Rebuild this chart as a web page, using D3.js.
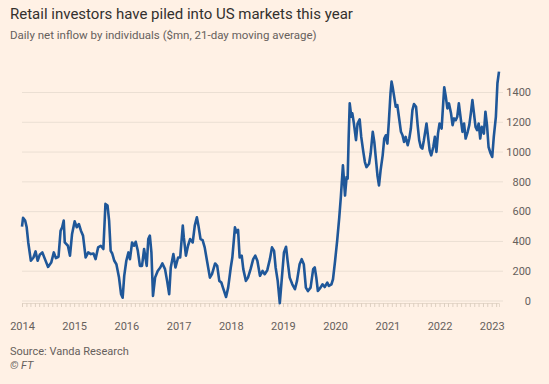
<!DOCTYPE html>
<html>
<head>
<meta charset="utf-8">
<script src="https://cdn.jsdelivr.net/npm/d3@7"></script>
<style>
  body { margin: 0; background: #fff1e5; }
  svg { display: block; font-family: Roboto, "Open Sans", sans-serif; }
</style>
</head>
<body>
<svg id="chart" width="549" height="384"></svg>
<script>
// decimal years
const years = [
  2014.00, 2014.02, 2014.06, 2014.09, 2014.12, 2014.17, 2014.22, 2014.26, 2014.30, 2014.34,
  2014.39, 2014.44, 2014.50, 2014.56, 2014.61, 2014.65, 2014.70, 2014.74, 2014.77, 2014.80,
  2014.82, 2014.88, 2014.92, 2014.96, 2015.01, 2015.05, 2015.09, 2015.13, 2015.17, 2015.22,
  2015.27, 2015.32, 2015.37, 2015.41, 2015.46, 2015.51, 2015.56, 2015.60, 2015.64, 2015.67,
  2015.70, 2015.73, 2015.77, 2015.81, 2015.86, 2015.90, 2015.93, 2015.96, 2016.00, 2016.04,
  2016.07, 2016.11, 2016.15, 2016.18, 2016.22, 2016.26, 2016.30, 2016.34, 2016.39, 2016.42,
  2016.45, 2016.48, 2016.51, 2016.55, 2016.60, 2016.65, 2016.69, 2016.74, 2016.78, 2016.82,
  2016.85, 2016.90, 2016.94, 2016.99, 2017.03, 2017.08, 2017.10, 2017.14, 2017.18, 2017.22,
  2017.27, 2017.31, 2017.35, 2017.38, 2017.42, 2017.46, 2017.50, 2017.55, 2017.60, 2017.64,
  2017.70, 2017.74, 2017.78, 2017.82, 2017.85, 2017.91, 2017.95, 2018.00, 2018.03, 2018.08,
  2018.11, 2018.14, 2018.17, 2018.21, 2018.24, 2018.29, 2018.33, 2018.38, 2018.43, 2018.47,
  2018.51, 2018.56, 2018.61, 2018.65, 2018.70, 2018.75, 2018.79, 2018.83, 2018.86, 2018.90,
  2018.94, 2018.98, 2019.02, 2019.06, 2019.09, 2019.13, 2019.18, 2019.23, 2019.27, 2019.32,
  2019.36, 2019.40, 2019.44, 2019.48, 2019.53, 2019.58, 2019.61, 2019.64, 2019.67, 2019.72,
  2019.76, 2019.80, 2019.85, 2019.88, 2019.93, 2019.96, 2020.00, 2020.04, 2020.08, 2020.11,
  2020.15, 2020.17, 2020.19, 2020.22, 2020.24, 2020.26, 2020.28, 2020.31, 2020.33, 2020.36,
  2020.40, 2020.43, 2020.47, 2020.50, 2020.54, 2020.57, 2020.60, 2020.65, 2020.68, 2020.72,
  2020.75, 2020.78, 2020.81, 2020.84, 2020.87, 2020.91, 2020.94, 2020.97, 2021.00, 2021.03,
  2021.06, 2021.08, 2021.10, 2021.13, 2021.16, 2021.19, 2021.23, 2021.26, 2021.29, 2021.32,
  2021.35, 2021.39, 2021.42, 2021.45, 2021.48, 2021.51, 2021.55, 2021.58, 2021.61, 2021.64,
  2021.67, 2021.70, 2021.75, 2021.78, 2021.81, 2021.84, 2021.88, 2021.91, 2021.94, 2021.97,
  2022.00, 2022.04, 2022.07, 2022.09, 2022.12, 2022.15, 2022.18, 2022.22, 2022.25, 2022.28,
  2022.31, 2022.34, 2022.37, 2022.41, 2022.44, 2022.47, 2022.50, 2022.54, 2022.57, 2022.60,
  2022.63, 2022.66, 2022.69, 2022.72, 2022.75, 2022.78, 2022.81, 2022.85, 2022.88, 2022.91,
  2022.94, 2022.98, 2023.01, 2023.04, 2023.08, 2023.11, 2023.14
];

// $mn, 21-day moving average
const inflow = [
  500, 558, 540, 495, 393, 270, 292, 333, 270, 310,
  326, 281, 229, 258, 326, 288, 297, 472, 495, 540,
  393, 371, 304, 450, 535, 495, 517, 472, 439, 292,
  326, 315, 319, 281, 360, 371, 349, 652, 641, 540,
  337, 319, 270, 247, 157, 45, 22, 169, 270, 326,
  281, 393, 371, 398, 337, 236, 236, 349, 236, 416,
  439, 326, 34, 157, 202, 225, 252, 214, 135, 45,
  225, 315, 225, 292, 292, 506, 427, 304, 371, 416,
  393, 506, 562, 506, 416, 409, 360, 258, 157, 180,
  252, 236, 135, 124, 90, 27, 90, 225, 292, 495,
  461, 477, 292, 304, 214, 135, 157, 214, 281, 304,
  270, 169, 202, 180, 207, 281, 360, 337, 225, 135,
  -15, 157, 326, 364, 270, 157, 112, 79, 135, 247,
  281, 247, 90, 67, 90, 214, 225, 157, 67, 90,
  112, 94, 124, 101, 112, 146, 270, 405, 562, 697,
  911, 810, 708, 832, 821, 1102, 1327, 1237, 1260, 1192,
  1080, 1192, 1219, 1102, 1001, 933, 899, 922, 990, 1136,
  1068, 956, 843, 776, 877, 978, 1091, 1113, 1057, 1214,
  1395, 1473, 1439, 1372, 1304, 1316, 1214, 1136, 1113, 1068,
  1102, 1046, 1091, 1158, 1282, 1322, 1304, 1181, 1080, 1034,
  1023, 1080, 1192, 1102, 1012, 978, 1034, 1102, 1001, 1124,
  1192, 1158, 1327, 1435, 1372, 1293, 1327, 1260, 1181, 1226,
  1214, 1237, 1327, 1214, 1136, 1192, 1091, 1136, 1181, 1260,
  1349, 1260, 1169, 1147, 1192, 1091, 1169, 1124, 1271, 1181,
  1034, 990, 967, 1102, 1237, 1462, 1540
];

const yTicks = [0, 200, 400, 600, 800, 1000, 1200, 1400];

const title = "Retail investors have piled into US markets this year";
const subtitle = "Daily net inflow by individuals ($mn, 21-day moving average)";
const source = "Source: Vanda Research";

// decimal year -> Date
function toDate(y) {
  let yr = Math.floor(y);
  let start = new Date(yr, 0, 1), end = new Date(yr + 1, 0, 1);
  return new Date(+start + (y - yr) * (end - start));
}

let data = years.map((d, i) => ({ date: toDate(d), value: inflow[i] }));

let svg = d3.select("#chart");

let xScale = d3.scaleTime()
  .domain([new Date(2014, 0, 1), toDate(years[years.length - 1])])
  .range([22, 499]);
let yScale = d3.scaleLinear().domain([0, 1400]).range([301, 92.5]);

// gridlines
svg.append("g")
  .selectAll("line")
  .data(yTicks)
  .join("line")
  .attr("x1", 22)
  .attr("x2", 503)
  .attr("y1", d => yScale(d))
  .attr("y2", d => yScale(d))
  .attr("stroke", "#ebdfd3")
  .attr("stroke-width", 1);

// y labels on the right
svg.append("g")
  .selectAll("text")
  .data(yTicks)
  .join("text")
  .attr("x", 531)
  .attr("y", d => yScale(d))
  .attr("dy", "0.35em")
  .attr("text-anchor", "end")
  .attr("font-size", 11)
  .attr("fill", "#66605c")
  .text(d => d);

// monthly minor ticks
let minor = d3.axisBottom(xScale)
  .ticks(d3.timeMonth.every(1))
  .tickSize(4)
  .tickFormat("");
let gMinor = svg.append("g")
  .attr("transform", "translate(0,303)")
  .call(minor);
gMinor.select(".domain").attr("stroke", "#e6d8ca");
gMinor.selectAll(".tick line").attr("stroke", "#ddcfc1");

// year labels
let major = d3.axisBottom(xScale)
  .ticks(d3.timeYear.every(1))
  .tickSize(0)
  .tickFormat(d3.timeFormat("%Y"));
let gMajor = svg.append("g")
  .attr("transform", "translate(0,303)")
  .call(major);
gMajor.select(".domain").remove();
gMajor.selectAll(".tick text")
  .attr("y", 19)
  .attr("font-size", 11)
  .attr("font-family", "Roboto, sans-serif")
  .attr("fill", "#66605c");

// the line
let lineGen = d3.line()
  .x(d => xScale(d.date))
  .y(d => yScale(d.value));

svg.append("path")
  .datum(data)
  .attr("d", lineGen)
  .attr("fill", "none")
  .attr("stroke", "#1f5799")
  .attr("stroke-width", 2.6)
  .attr("stroke-linejoin", "round");

// titles
svg.append("text")
  .attr("x", 10)
  .attr("y", 18.5)
  .attr("font-size", 15)
  .attr("fill", "#33302e")
  .text(title);

svg.append("text")
  .attr("x", 10)
  .attr("y", 39)
  .attr("font-size", 11.5)
  .attr("fill", "#66605c")
  .text(subtitle);

svg.append("text")
  .attr("x", 10)
  .attr("y", 355)
  .attr("font-size", 11)
  .attr("fill", "#66605c")
  .text(source);

svg.append("text")
  .attr("x", 10)
  .attr("y", 369)
  .attr("font-size", 11)
  .attr("font-style", "italic")
  .attr("fill", "#66605c")
  .text("© FT");
</script>
</body>
</html>
